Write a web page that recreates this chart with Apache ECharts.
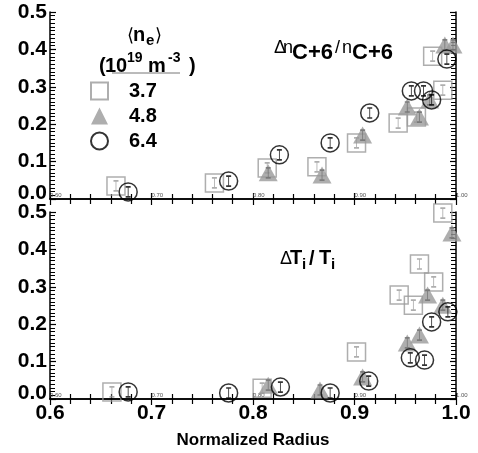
<!DOCTYPE html>
<html>
<head>
<meta charset="utf-8">
<script src="https://cdn.jsdelivr.net/npm/echarts@6/dist/echarts.min.js"></script>
<style>
  html, body { margin: 0; padding: 0; background: #fff; }
  #chart { width: 478px; height: 453px; }
</style>
</head>
<body>
<div id="chart"></div>
<script>
// [normalized radius, fluctuation level]
// upper panel: delta n_C+6 / n_C+6
var topSq37 = [[0.665, 0.035], [0.762, 0.043], [0.814, 0.083], [0.863, 0.086], [0.902, 0.150],
  [0.943, 0.203], [0.961, 0.219], [0.987, 0.291], [0.977, 0.382]]
var topTri48 = [[0.815, 0.070], [0.868, 0.064], [0.908, 0.171], [0.952, 0.246], [0.964, 0.219],
  [0.974, 0.265], [0.989, 0.412], [0.997, 0.412]]
var topCir64 = [[0.677, 0.019], [0.776, 0.048], [0.826, 0.118], [0.876, 0.150], [0.915, 0.230],
  [0.956, 0.289], [0.968, 0.289], [0.976, 0.265], [0.991, 0.374]]
// lower panel: delta T_i / T_i
var botSq37 = [[0.661, 0.019], [0.809, 0.029], [0.902, 0.126], [0.944, 0.278], [0.958, 0.251],
  [0.964, 0.361], [0.978, 0.313], [0.987, 0.497]]
var botTri48 = [[0.815, 0.037], [0.866, 0.024], [0.908, 0.059], [0.952, 0.150], [0.964, 0.171],
  [0.972, 0.278], [0.987, 0.251], [0.996, 0.444]]
var botCir64 = [[0.677, 0.019], [0.776, 0.016], [0.827, 0.032], [0.876, 0.016], [0.914, 0.048],
  [0.955, 0.110], [0.969, 0.104], [0.976, 0.206], [0.992, 0.233]]

var densities = ['3.7', '4.8', '6.4']
var xTicks = [0.6, 0.7, 0.8, 0.9, 1.0]
var yTicks = [0.0, 0.1, 0.2, 0.3, 0.4, 0.5]

var FONT = '"Liberation Sans", Arial, Helvetica, sans-serif'
var GRAY = '#9a9a9a'
var errBar = 'path://M0,0L4,0M2,0L2,10M0,10L4,10'

var chart = echarts.init(document.getElementById('chart'))

function xAxisSet(gridIndex, withLabels) {
  var tick = { show: true, inside: true, length: 6, lineStyle: { color: '#000', width: 1.2 } }
  var minor = { show: true, splitNumber: 5, length: 5, lineStyle: { color: '#000', width: 1.2 } }
  return [
    {
      gridIndex: gridIndex, type: 'value', position: 'bottom',
      min: xTicks[0], max: xTicks[xTicks.length - 1], interval: 0.1,
      axisLine: { lineStyle: { color: '#000', width: 1.5 } },
      axisTick: tick, minorTick: minor, splitLine: { show: false },
      axisLabel: {
        show: withLabels, margin: 4, color: '#000', fontFamily: FONT, fontWeight: 'bold', fontSize: 21,
        formatter: function (v) { return v.toFixed(1) }
      },
      name: withLabels ? 'Normalized Radius' : '', nameLocation: 'middle', nameGap: 33,
      nameTextStyle: { color: '#000', fontFamily: FONT, fontWeight: 'bold', fontSize: 17 }
    },
    {
      gridIndex: gridIndex, type: 'value', position: 'top',
      min: xTicks[0], max: xTicks[xTicks.length - 1], interval: 0.1,
      axisLine: { lineStyle: { color: '#000', width: 1.5 } },
      axisTick: tick, minorTick: minor, splitLine: { show: false },
      axisLabel: { show: false }
    },
    {
      // the tiny tick values printed inside the frame
      gridIndex: gridIndex, type: 'value', position: 'bottom', offset: 0,
      min: xTicks[0], max: xTicks[xTicks.length - 1], interval: 0.1,
      axisLine: { show: false }, axisTick: { show: false }, splitLine: { show: false },
      axisLabel: {
        show: true, inside: true, margin: 1, align: 'left', verticalAlign: 'bottom',
        color: '#555', fontFamily: FONT, fontSize: 6,
        formatter: function (v) { return v.toFixed(2) }
      }
    }
  ]
}

function yAxisSet(gridIndex) {
  var tick = { show: true, inside: true, length: 6, lineStyle: { color: '#000', width: 1.2 } }
  var minor = { show: true, splitNumber: 10, length: 5, lineStyle: { color: '#000', width: 1 } }
  return [
    {
      gridIndex: gridIndex, type: 'value', position: 'left',
      min: yTicks[0], max: yTicks[yTicks.length - 1], interval: 0.1,
      axisLine: { show: true, lineStyle: { color: '#000', width: 1.5 } },
      axisTick: tick, minorTick: minor, splitLine: { show: false },
      axisLabel: {
        margin: 3, color: '#000', fontFamily: FONT, fontWeight: 'bold', fontSize: 21,
        formatter: function (v) { return v === 0 ? '{z|0.0}' : v.toFixed(1) },
        rich: { z: { fontFamily: FONT, fontWeight: 'bold', fontSize: 21, color: '#000', padding: [0, 0, 12, 0] } }
      }
    },
    {
      gridIndex: gridIndex, type: 'value', position: 'right',
      min: yTicks[0], max: yTicks[yTicks.length - 1], interval: 0.1,
      axisLine: { show: true, lineStyle: { color: '#000', width: 1.5 } },
      axisTick: tick, minorTick: minor, splitLine: { show: false },
      axisLabel: { show: false }
    }
  ]
}

function markers(xi, yi, sq, tri, cir) {
  var common = { type: 'scatter', xAxisIndex: xi, yAxisIndex: yi, silent: true, z: 3 }
  return [
    Object.assign({}, common, {
      name: densities[0], data: sq, symbol: 'rect', symbolSize: 18,
      itemStyle: { color: 'rgba(0,0,0,0)', borderColor: GRAY, borderWidth: 1.5 }
    }),
    Object.assign({}, common, {
      name: 'eb-sq', data: sq, symbol: errBar, symbolSize: [5, 10],
      itemStyle: { color: 'rgba(0,0,0,0)', borderColor: GRAY, borderWidth: 1.2 }
    }),
    Object.assign({}, common, {
      name: densities[1], data: tri, symbol: 'triangle', symbolSize: [19, 17], z: 4,
      itemStyle: { color: GRAY, borderWidth: 0 }
    }),
    Object.assign({}, common, {
      name: 'eb-tri', data: tri, symbol: errBar, symbolSize: [5, 10], z: 4,
      itemStyle: { color: 'rgba(0,0,0,0)', borderColor: '#6f6f6f', borderWidth: 1.2 }
    }),
    Object.assign({}, common, {
      name: densities[2], data: cir, symbol: 'circle', symbolSize: 18, z: 5,
      itemStyle: { color: 'rgba(0,0,0,0)', borderColor: '#000', borderWidth: 1.5 }
    }),
    Object.assign({}, common, {
      name: 'eb-cir', data: cir, symbol: errBar, symbolSize: [5, 10], z: 5,
      itemStyle: { color: 'rgba(0,0,0,0)', borderColor: '#000', borderWidth: 1.2 }
    })
  ]
}

function txt(x, y, s, size, weight) {
  return {
    type: 'text', x: x, y: y, silent: true, z: 10,
    style: { text: s, fill: '#000', fontFamily: FONT, fontSize: size, fontWeight: weight || 'bold', verticalAlign: 'middle' }
  }
}

var option = {
  backgroundColor: '#fff',
  animation: false,
  grid: [
    { left: 50, right: 22, top: 12, height: 187 },
    { left: 50, right: 22, top: 212, height: 187 }
  ],
  xAxis: xAxisSet(0, false).concat(xAxisSet(1, true)),
  yAxis: yAxisSet(0).concat(yAxisSet(1)),
  legend: {
    data: densities, orient: 'vertical', left: 85, top: 76,
    itemWidth: 17, itemHeight: 17, itemGap: 5, selectedMode: false,
    textStyle: { color: '#000', fontFamily: FONT, fontWeight: 'bold', fontSize: 20, padding: [0, 0, 0, 16] }
  },
  series: markers(0, 0, topSq37, topTri48, topCir64).concat(markers(3, 2, botSq37, botTri48, botCir64)),
  graphic: [
    // legend header
    txt(127, 36, '\u27e8', 18, 'normal'),
    txt(133, 35, 'n', 20),
    txt(146, 41, 'e', 15),
    txt(155, 36, '\u27e9', 18, 'normal'),
    txt(99, 66, '(', 20),
    txt(105, 66, '10', 20),
    txt(127, 58, '19', 14),
    txt(148, 66, 'm', 20),
    txt(168, 58, '-3', 14),
    txt(189, 66, ')', 20),
    { type: 'line', silent: true, shape: { x1: 112, y1: 73, x2: 180, y2: 73 }, style: { stroke: '#777', lineWidth: 1 } },
    // upper panel label
    txt(274, 48, '\u0394', 18, 'normal'),
    txt(283, 48, 'n', 18, 'normal'),
    txt(292, 53, 'C+6', 22),
    txt(335, 48, '/', 18, 'normal'),
    txt(342, 48, 'n', 18, 'normal'),
    txt(352, 53, 'C+6', 22),
    // lower panel label
    txt(280, 259, '\u0394', 18, 'normal'),
    txt(290, 258, 'T', 20),
    txt(302, 265, 'i', 15),
    txt(309, 259, '/', 20),
    txt(319, 258, 'T', 20),
    txt(331, 265, 'i', 15)
  ]
}

chart.setOption(option)
</script>
</body>
</html>
